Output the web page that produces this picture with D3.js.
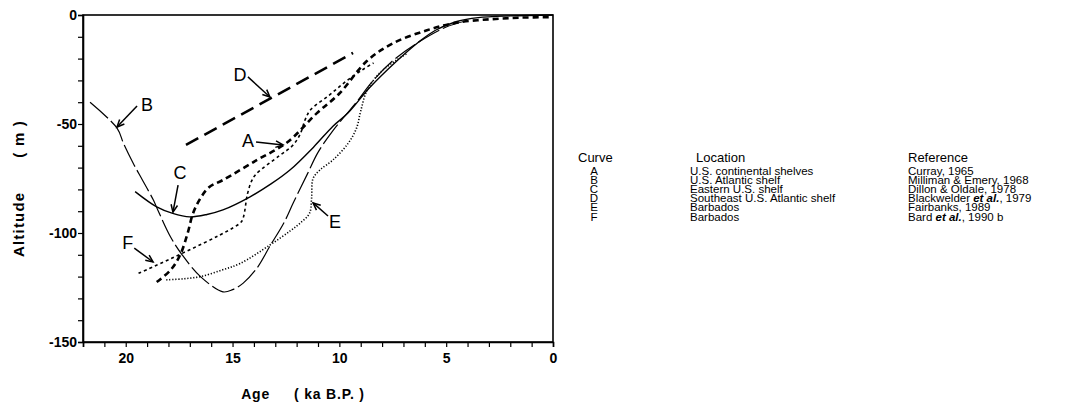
<!DOCTYPE html>
<html>
<head>
<meta charset="utf-8">
<script src="https://cdn.jsdelivr.net/npm/d3@7"></script>
<style>
  body { margin: 0; background: #fff; }
  svg { display: block; }
  text { font-family: "Liberation Sans", Arial, Helvetica, sans-serif; fill: #000; }
</style>
</head>
<body>
<svg id="chart" width="1075" height="407"></svg>
<script>
// ---------- data ----------
const curveIds = ["A", "B", "C", "D", "E", "F"];
const locations = ["U.S. continental shelves", "U.S. Atlantic shelf", "Eastern U.S. shelf",
  "Southeast U.S. Atlantic shelf", "Barbados", "Barbados"];
const references = ["Curray, 1965", "Milliman & Emery, 1968", "Dillon & Oldale, 1978",
  "Blackwelder et al., 1979", "Fairbanks, 1989", "Bard et al., 1990 b"];

const ageA = [18.55, 17.9, 17.45, 17.1, 16.85, 16.5, 16.1, 15.45, 13.85, 12.45, 11.05, 10.0, 8.7, 7.5, 5.9, 4.5, 3.0, 1.5, 0];
const altA = [-122.5, -117, -110, -100, -91, -84, -79, -75.7, -66.5, -58.5, -45, -36, -21, -13, -7, -3.5, -2, -1.2, -1];

const ageB = [21.67, 20.4, 20.1, 19.65, 19.2, 18.7, 18.5, 17.9, 17.36, 16.5, 15.45, 15.0, 14.5, 13.85, 13.25, 12.6, 12.15, 11.5, 11.0, 10.3, 9.8, 9.2, 8.5, 7.5, 6.3, 5.0, 4.0];
const altB = [-40, -52, -59, -68, -76, -85, -89.4, -101.8, -110, -120, -127, -126, -123, -116, -106, -95.4, -86, -73, -63, -53, -47, -40, -31, -21, -12.5, -5.5, -2.5];

const ageC = [19.56, 18.55, 17.8, 17.0, 16.2, 15.45, 14.2, 13.2, 12.3, 11.2, 10.3, 9.6, 8.6, 7.3, 6.3, 5.5, 4.5, 3.5, 2.0, 0];
const altC = [-81, -88, -91, -92.6, -91.5, -89.4, -83.5, -77.5, -71, -60.5, -51, -45, -33.5, -21, -12.5, -7, -3, -1.2, -0.4, 0];

const ageD = [17.18, 9.36];
const altD = [-59.6, -17.4];

const ageE = [18.1, 17.3, 16.5, 15.5, 14.65, 13.25, 12.3, 11.84, 11.4, 11.3, 11.23, 10.9, 10.3, 9.6, 9.2, 9.0, 8.7, 8.1, 7.3, 6.8];
const altE = [-121.5, -121, -120, -117, -114, -105.5, -99, -95.5, -91, -84, -75, -71, -66.5, -59, -52, -44, -34.5, -26.5, -20.5, -17.5];

const ageF = [19.4, 14.65, 14.5, 14.3, 14.1, 13.9, 12.8, 12.2, 11.85, 11.6, 11.35, 10.5, 9.7, 8.9, 8.4];
const altF = [-118.5, -95.5, -93, -82, -76, -73, -64.5, -60, -55, -48, -43.5, -37, -30.5, -25, -22];

const xTickLabels = [20, 15, 10, 5, 0];
const yTickLabels = [0, -50, -100, -150];

// annotation letters: text position and arrow (from -> to), in data units (age, altitude)
const annotLetters = ["A", "B", "C", "D", "E", "F"];
const annotText = [[14.28, -57.8], [19.0, -41.3], [17.46, -72.5], [14.65, -27.5], [10.2, -95.0], [19.9, -104.6]];
const annotFrom = [[13.9, -58.3], [19.47, -41.7], [17.55, -78.0], [14.28, -28.4], [10.53, -92.2], [19.6, -106.9]];
const annotTo = [[12.64, -59.6], [20.41, -51.4], [17.79, -90.4], [13.25, -37.6], [11.23, -86.2], [18.72, -113.3]];

// ---------- layout ----------
const svg = d3.select("#chart");
const x = d3.scaleLinear().domain([22, 0]).range([83, 553]);
const y = d3.scaleLinear().domain([0, -150]).range([15, 342]);

const styles = {
  A: { w: 2.6, dash: "6,4" },
  B: { w: 1.2, dash: "24,4" },
  C: { w: 1.4, dash: null },
  D: { w: 2.6, dash: "14,7" },
  E: { w: 1.6, dash: "1.2,1.8" },
  F: { w: 1.6, dash: "3,3" }
};

const seriesData = {
  A: ageA.map((a, i) => [a, altA[i]]),
  B: ageB.map((a, i) => [a, altB[i]]),
  C: ageC.map((a, i) => [a, altC[i]]),
  D: ageD.map((a, i) => [a, altD[i]]),
  E: ageE.map((a, i) => [a, altE[i]]),
  F: ageF.map((a, i) => [a, altF[i]])
};

// frame
const g = svg.append("g");
g.append("rect")
  .attr("x", x(22)).attr("y", y(0))
  .attr("width", x(0) - x(22)).attr("height", y(-150) - y(0))
  .attr("fill", "none").attr("stroke", "#000").attr("stroke-width", 1.6);

// axes
const xAxis = d3.axisBottom(x)
  .tickValues(d3.range(22, -1, -1))
  .tickSize(5)
  .tickFormat(d => xTickLabels.includes(d) ? d : "");
const gx = g.append("g").attr("transform", `translate(0,${y(-150)})`).call(xAxis);
gx.select(".domain").attr("stroke-width", 1.6);
gx.selectAll(".tick line").attr("stroke-width", 1.2);
gx.selectAll(".tick text").attr("font-size", 14).attr("font-weight", "bold").attr("dy", "0.95em")
  .style("font-family", "'Liberation Sans', Arial, sans-serif");

const yAxis = d3.axisLeft(y)
  .tickValues(d3.range(0, -151, -10))
  .tickSize(5)
  .tickFormat(d => yTickLabels.includes(d) ? d : "");
const gy = g.append("g").attr("transform", `translate(${x(22)},0)`).call(yAxis);
gy.select(".domain").attr("stroke-width", 1.6);
gy.selectAll(".tick line").attr("stroke-width", 1.2);
gy.selectAll(".tick text").attr("font-size", 14).attr("font-weight", "bold").attr("x", -6)
  .style("font-family", "'Liberation Sans', Arial, sans-serif");
g.selectAll(".domain").attr("stroke", "#000");

// curves
const line = d3.line().x(d => x(d[0])).y(d => y(d[1])).curve(d3.curveCatmullRom.alpha(0.5));
curveIds.forEach(id => {
  g.append("path")
    .datum(seriesData[id])
    .attr("d", line)
    .attr("fill", "none")
    .attr("stroke", "#000")
    .attr("stroke-width", styles[id].w)
    .attr("stroke-dasharray", styles[id].dash)
    .attr("stroke-linecap", "butt");
});

// annotations
annotLetters.forEach((L, i) => {
  const tx = x(annotText[i][0]), ty = y(annotText[i][1]);
  g.append("text").attr("x", tx).attr("y", ty).attr("text-anchor", "middle")
    .attr("dominant-baseline", "central").attr("font-size", 18).text(L);
  const x1 = x(annotFrom[i][0]), y1 = y(annotFrom[i][1]);
  const x2 = x(annotTo[i][0]), y2 = y(annotTo[i][1]);
  g.append("line").attr("x1", x1).attr("y1", y1).attr("x2", x2).attr("y2", y2)
    .attr("stroke", "#000").attr("stroke-width", 1.5);
  const ang = Math.atan2(y2 - y1, x2 - x1);
  const hl = 8, ha = 0.42;
  const p = [
    [x2 - hl * Math.cos(ang - ha), y2 - hl * Math.sin(ang - ha)],
    [x2, y2],
    [x2 - hl * Math.cos(ang + ha), y2 - hl * Math.sin(ang + ha)]
  ];
  g.append("path").attr("d", d3.line()(p)).attr("fill", "none").attr("stroke", "#000").attr("stroke-width", 1.5);
});

// axis titles
const yt = g.append("text")
  .attr("transform", `translate(24,${(y(0) + y(-150)) / 2 + 10}) rotate(-90)`)
  .attr("text-anchor", "middle").attr("font-size", 15).attr("font-weight", "bold")
  .attr("letter-spacing", 1.2);
yt.append("tspan").text("Altitude");
yt.append("tspan").attr("dx", 34).text("( m )");
const xt = g.append("text")
  .attr("x", 303).attr("y", 399)
  .attr("text-anchor", "middle").attr("font-size", 14).attr("font-weight", "bold")
  .attr("letter-spacing", 0.8);
xt.append("tspan").text("Age");
xt.append("tspan").attr("dx", 24).text("( ka B.P. )");

// legend
const lg = svg.append("g");
const colCurve = 578, colLetter = 594, colLoc = 690, colRef = 908;
const headY = 162, rowY0 = 175, rowStep = 9.1;
lg.append("text").attr("x", colCurve).attr("y", headY).attr("font-size", 13).text("Curve");
lg.append("text").attr("x", colLoc + 6).attr("y", headY).attr("font-size", 13).text("Location");
lg.append("text").attr("x", colRef).attr("y", headY).attr("font-size", 13).text("Reference");
curveIds.forEach((id, i) => {
  const yy = rowY0 + i * rowStep;
  lg.append("text").attr("x", colLetter).attr("y", yy).attr("font-size", 11.5).attr("text-anchor", "middle").text(id);
  lg.append("text").attr("x", colLoc).attr("y", yy).attr("font-size", 11.5).text(locations[i]);
  const ref = lg.append("text").attr("x", colRef).attr("y", yy).attr("font-size", 11.5);
  const m = references[i].match(/^(.*?)(et al\.)(.*)$/);
  if (m) {
    ref.append("tspan").text(m[1]);
    ref.append("tspan").attr("font-style", "italic").attr("font-weight", "bold").text(m[2]);
    ref.append("tspan").text(m[3]);
  } else {
    ref.text(references[i]);
  }
});
</script>
</body>
</html>
